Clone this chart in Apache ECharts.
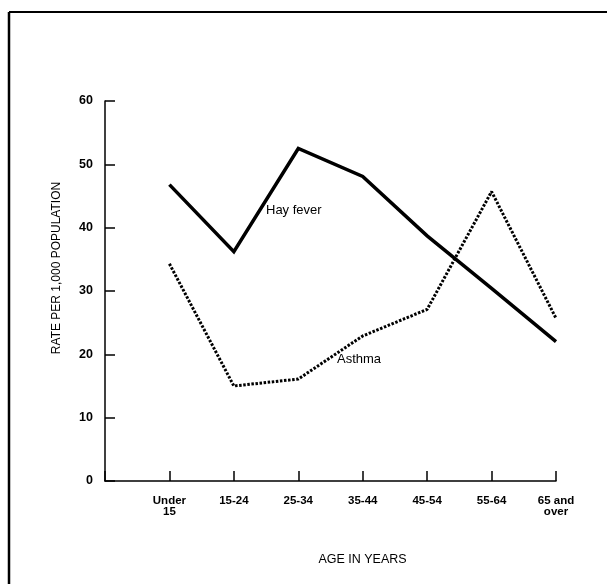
<!DOCTYPE html>
<html>
<head>
    <meta charset="utf-8">
    <title>Hay fever and asthma by age</title>
    <script src="https://cdn.jsdelivr.net/npm/echarts@6/dist/echarts.min.js"></script>
    <style>
        html, body { margin: 0; padding: 0; background: #fff; }
        #chart { width: 607px; height: 584px; }
    </style>
</head>
<body>
<div id="chart"></div>
<script>
    // data
    var ageGroups = ['Under\n15', '15-24', '25-34', '35-44', '45-54', '55-64', '65 and\nover'];
    var hayFever = [46.8, 36.2, 52.5, 48.1, 38.7, 30.4, 22.0];
    var asthma = [34.3, 15.0, 16.1, 22.9, 27.1, 45.7, 25.7];
    var yTicks = [0, 10, 20, 30, 40, 50, 60];

    // empty slot at the origin so the groups sit on ticks 1..7
    var cats = [''].concat(ageGroups);

    var font = '"Liberation Sans", Arial, sans-serif';
    var chart = echarts.init(document.getElementById('chart'));

    var option = {
        animation: false,
        backgroundColor: '#fff',
        grid: { left: 105, right: 51, top: 101, bottom: 103 },
        xAxis: {
            type: 'category',
            data: cats,
            boundaryGap: false,
            name: 'AGE IN YEARS',
            nameLocation: 'middle',
            nameGap: 72,
            nameTextStyle: { fontFamily: font, fontSize: 12.5, color: '#000', padding: [0, 0, 0, 64] },
            axisLine: { lineStyle: { color: '#000', width: 1.5 } },
            axisTick: { inside: true, length: 10, alignWithLabel: true, lineStyle: { color: '#000', width: 1.5 } },
            axisLabel: {
                fontFamily: font, fontSize: 11.5, color: '#000', fontWeight: 'bold',
                margin: 14, lineHeight: 11, interval: 0
            },
            splitLine: { show: false }
        },
        yAxis: {
            type: 'value',
            min: yTicks[0],
            max: yTicks[yTicks.length - 1],
            interval: 10,
            name: 'RATE PER 1,000 POPULATION',
            nameLocation: 'middle',
            nameGap: 42,
            nameTextStyle: { fontFamily: font, fontSize: 12, color: '#000', padding: [0, 0, 0, 46] },
            axisLine: { show: true, lineStyle: { color: '#000', width: 1.5 } },
            axisTick: { show: true, inside: true, length: 10, lineStyle: { color: '#000', width: 1.5 } },
            axisLabel: { fontFamily: font, fontSize: 12.5, color: '#000', fontWeight: 'bold', margin: 12 },
            splitLine: { show: false }
        },
        series: [
            {
                name: 'Hay fever',
                type: 'line',
                data: [null].concat(hayFever),
                symbol: 'none',
                lineStyle: { color: '#000', width: 3.5, join: 'miter' }
            },
            {
                name: 'Asthma',
                type: 'line',
                data: [null].concat(asthma),
                symbol: 'none',
                lineStyle: { color: '#000', width: 3, type: [2.5, 1.6] }
            }
        ],
        graphic: [
            // frame left and top
            { type: 'line', shape: { x1: 9, y1: 12, x2: 9, y2: 584 }, style: { stroke: '#000', lineWidth: 2.5 } },
            { type: 'line', shape: { x1: 9, y1: 12, x2: 607, y2: 12 }, style: { stroke: '#000', lineWidth: 2 } },
            // series labels
            { type: 'text', left: 266, top: 204, style: { text: 'Hay fever', font: '13px ' + font, fill: '#000' } },
            { type: 'text', left: 337, top: 353, style: { text: 'Asthma', font: '13px ' + font, fill: '#000' } }
        ]
    };

    chart.setOption(option);
</script>
</body>
</html>
